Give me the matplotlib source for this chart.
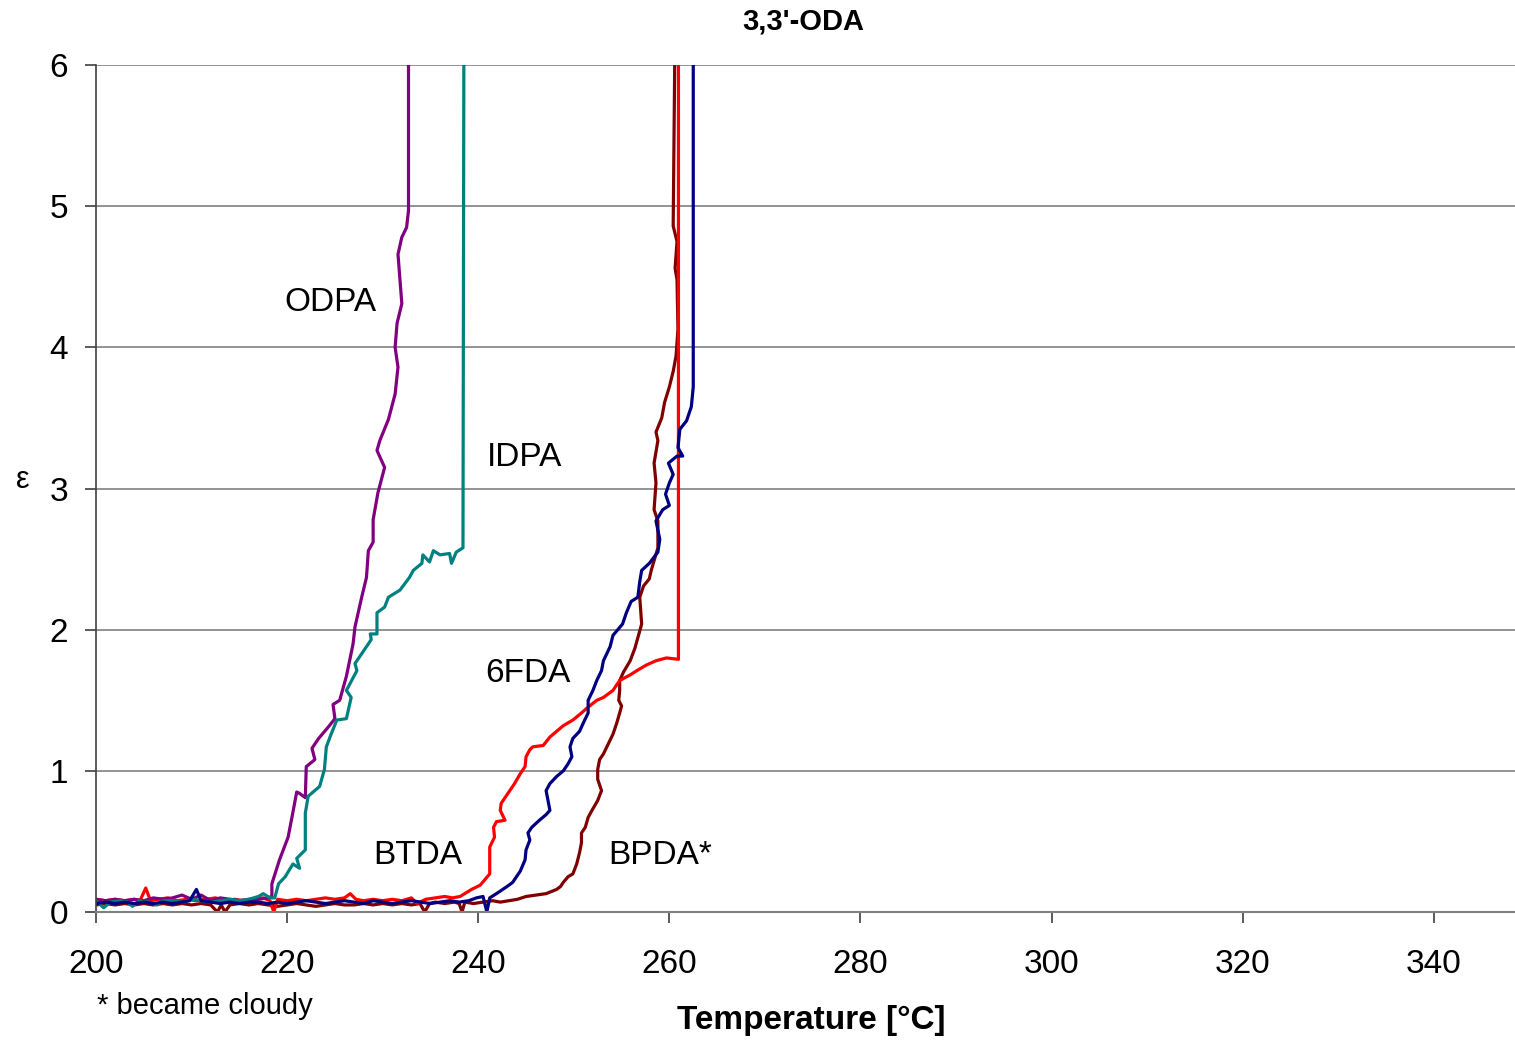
import matplotlib.pyplot as plt

plt.rcParams['font.family'] = ['Liberation Sans', 'DejaVu Sans']

# ODPA
odpa_t = [200, 201, 202, 203, 204, 205, 206, 207, 208, 209, 210, 211, 212, 213, 214, 215, 216, 217, 218,
          218.4, 218.4, 219.2, 220.1, 220.5, 221.0, 221.3, 221.9, 222.0, 222.9, 222.6, 223.3, 224.3, 225.0,
          224.8, 225.5, 226.2, 226.9, 227.1, 227.8, 228.3, 228.5, 229.0, 229.0, 229.5, 230.2, 229.4, 229.7,
          230.6, 231.3, 231.6, 231.3, 231.5, 232.0, 231.6, 232.0, 232.5, 232.7, 232.7]
odpa_e = [0.09, 0.08, 0.09, 0.08, 0.09, 0.08, 0.10, 0.09, 0.10, 0.12, 0.09, 0.12, 0.08, 0.10, 0.09, 0.08, 0.09, 0.09, 0.10,
          0.11, 0.20, 0.37, 0.53, 0.67, 0.85, 0.84, 0.81, 1.03, 1.08, 1.16, 1.23, 1.31, 1.37,
          1.47, 1.50, 1.67, 1.90, 2.02, 2.23, 2.37, 2.56, 2.62, 2.78, 2.97, 3.15, 3.27, 3.34,
          3.49, 3.67, 3.86, 4.00, 4.17, 4.31, 4.66, 4.78, 4.85, 4.97, 6.3]

# IDPA
idpa_t = [200, 200.8, 201.5, 202.5, 203.3, 203.8, 204.5, 205.5, 206.4, 207, 208, 209, 210, 211, 212, 213, 214,
          215, 216, 217, 217.5, 218.2, 218.7, 219.1, 219.8, 220.6, 221.3, 221.0, 221.9, 221.9, 222.2, 223.4,
          223.9, 224.1, 224.6, 225.2, 226.2, 226.7, 226.2, 227.3, 227.1, 228.8, 228.7, 229.4, 229.4, 230.2,
          230.6, 231.8, 232.8, 233.2, 234.1, 234.2, 234.9, 235.3, 236.0, 237.0, 237.2, 237.7, 238.4, 238.5]
idpa_e = [0.08, 0.03, 0.07, 0.08, 0.07, 0.04, 0.08, 0.07, 0.05, 0.08, 0.08, 0.07, 0.09, 0.08, 0.07, 0.08, 0.09,
          0.08, 0.09, 0.11, 0.13, 0.10, 0.10, 0.20, 0.25, 0.34, 0.31, 0.38, 0.44, 0.70, 0.82, 0.89,
          1.01, 1.17, 1.26, 1.36, 1.37, 1.52, 1.57, 1.71, 1.76, 1.93, 1.97, 1.97, 2.12, 2.16,
          2.23, 2.28, 2.37, 2.42, 2.47, 2.53, 2.48, 2.56, 2.53, 2.54, 2.47, 2.55, 2.58, 6.3]

# BTDA
btda_t = [200, 201, 202, 203, 204, 204.6, 205.2, 205.7, 206.5, 207.5, 208.5, 209.5, 210.5, 211.5, 212.5, 213.5,
          214.5, 215.5, 216.5, 217.5, 218.2, 218.6, 219.0, 220, 221, 222, 223, 224, 225, 226, 226.6, 227.2,
          228, 229, 230, 231, 232, 233, 233.6, 234.5, 235.5, 236.5, 237.3, 238.1,
          239.3, 240.2, 241.2, 241.2, 241.7, 241.6, 241.9, 242.8, 242.3, 242.4, 243.1, 243.8, 244.4, 244.9,
          245.0, 245.4, 245.7, 246.8, 247.5, 248.2, 248.9, 249.9, 250.8, 251.3, 252.4, 253.1, 254.1, 254.8,
          255.9, 256.6, 257.6, 258.6, 259.7, 260.95, 260.95]
btda_e = [0.09, 0.08, 0.09, 0.08, 0.09, 0.08, 0.17, 0.08, 0.09, 0.10, 0.08, 0.09, 0.08, 0.09, 0.10, 0.08,
          0.09, 0.08, 0.09, 0.10, 0.08, 0.0, 0.09, 0.08, 0.09, 0.08, 0.09, 0.10, 0.09, 0.10, 0.13, 0.09,
          0.08, 0.09, 0.08, 0.09, 0.08, 0.10, 0.06, 0.09, 0.10, 0.11, 0.10, 0.11,
          0.16, 0.19, 0.27, 0.46, 0.53, 0.60, 0.64, 0.65, 0.72, 0.77, 0.84, 0.91, 0.98, 1.03,
          1.10, 1.15, 1.17, 1.18, 1.24, 1.28, 1.32, 1.36, 1.41, 1.44, 1.50, 1.52, 1.57, 1.64,
          1.68, 1.71, 1.75, 1.78, 1.80, 1.79, 6.3]

# 6FDA
fda_t = [200, 201, 202, 203, 204, 205, 206, 207, 208, 209, 209.8, 210.5, 211.0, 212, 213, 214, 215, 216, 217,
         218, 219, 220, 221, 222, 223, 224, 225, 226, 227, 228, 229, 230, 231, 232, 233, 234, 235, 236, 237,
         238, 239, 239.8, 240.5, 240.9, 241.2, 241.9,
         243.0, 243.6, 244.4, 244.9, 245.0, 245.4, 245.2, 245.6, 246.4, 247.1, 247.5, 247.3, 247.1, 247.5,
         248.2, 248.9, 249.4, 249.8, 249.6, 249.9, 250.6, 251.0, 251.5, 251.5, 252.0, 252.4, 252.9, 253.1,
         253.8, 254.1, 255.1, 255.5, 256.0, 256.7, 256.9, 257.1, 257.9, 258.8, 259.0, 258.6, 259.3, 260.0,
         259.6, 260.0, 260.4, 259.9, 260.8, 261.4, 260.9, 261.1, 261.8, 262.3, 262.5, 262.5, 262.5]
fda_e = [0.06, 0.07, 0.06, 0.07, 0.06, 0.07, 0.06, 0.07, 0.06, 0.07, 0.08, 0.16, 0.08, 0.07, 0.06, 0.07, 0.06, 0.07, 0.07,
         0.06, 0.07, 0.06, 0.07, 0.08, 0.07, 0.06, 0.07, 0.08, 0.07, 0.06, 0.08, 0.07, 0.06, 0.07, 0.08, 0.07, 0.06, 0.07, 0.08,
         0.07, 0.08, 0.10, 0.11, 0.0, 0.10, 0.13,
         0.18, 0.21, 0.29, 0.37, 0.44, 0.51, 0.56, 0.60, 0.65, 0.69, 0.72, 0.79, 0.86, 0.91,
         0.96, 1.00, 1.05, 1.10, 1.17, 1.23, 1.28, 1.34, 1.41, 1.50, 1.57, 1.64, 1.71, 1.78,
         1.88, 1.96, 2.04, 2.12, 2.20, 2.23, 2.34, 2.42, 2.47, 2.55, 2.64, 2.77, 2.85, 2.88,
         2.96, 3.04, 3.10, 3.18, 3.23, 3.23, 3.29, 3.42, 3.48, 3.58, 3.72, 3.88, 6.3]

# BPDA*
bpda_t = [200, 201, 202, 203, 204, 205, 206, 207, 208, 209, 210, 211, 212, 212.7, 213.1, 213.5, 214, 215, 216,
          217, 218, 219, 220, 221, 222, 223, 224, 225, 226, 227, 228, 229, 230, 231, 232, 233, 233.9, 234.4,
          234.9, 235.5, 236.5, 237.5, 238.0, 238.3, 238.6, 239.5, 240.5, 241.5, 242.3, 243.2, 244.1,
          245.0, 247.1, 248.2, 248.6, 248.9, 249.4, 249.9, 250.3, 250.6, 250.8, 250.8, 251.2, 251.5, 251.9,
          252.5, 252.9, 252.5, 252.5, 252.7, 253.1, 253.6, 254.1, 254.5, 254.8, 255.0, 254.7, 254.8, 254.8,
          255.2, 255.9, 256.4, 257.1, 256.9, 257.3, 257.9, 258.1, 258.8, 258.8, 258.4, 258.6, 258.4, 258.8,
          258.6, 259.2, 259.5, 260.0, 260.4, 260.7, 260.9, 260.8, 260.6, 260.8, 260.4, 260.6]
bpda_e = [0.05, 0.06, 0.05, 0.06, 0.05, 0.06, 0.05, 0.06, 0.05, 0.06, 0.05, 0.06, 0.05, 0.0, 0.05, 0.0, 0.05, 0.06, 0.05,
          0.06, 0.05, 0.04, 0.05, 0.06, 0.05, 0.04, 0.05, 0.06, 0.05, 0.05, 0.06, 0.05, 0.06, 0.05, 0.06, 0.05, 0.06, 0.0,
          0.06, 0.07, 0.06, 0.07, 0.06, 0.0, 0.07, 0.06, 0.07, 0.08, 0.07, 0.08, 0.09,
          0.11, 0.13, 0.16, 0.18, 0.21, 0.25, 0.27, 0.34, 0.42, 0.49, 0.56, 0.60, 0.67, 0.72,
          0.79, 0.86, 0.94, 1.01, 1.08, 1.12, 1.19, 1.26, 1.34, 1.41, 1.46, 1.50, 1.57, 1.64,
          1.70, 1.78, 1.87, 2.04, 2.23, 2.31, 2.36, 2.42, 2.58, 2.77, 2.85, 3.04, 3.18, 3.34,
          3.40, 3.50, 3.61, 3.72, 3.83, 3.94, 4.13, 4.48, 4.56, 4.75, 4.86, 6.3]

fig = plt.figure(figsize=(15.15, 10.43), dpi=100)
ax = fig.add_axes([0.0634, 0.1256, 0.9366, 0.812])

ax.plot(bpda_t, bpda_e, color='#800000', lw=2.3)
ax.plot(btda_t, btda_e, color='#ff0000', lw=2.3)
ax.plot(odpa_t, odpa_e, color='#800080', lw=2.3)
ax.plot(idpa_t, idpa_e, color='#008080', lw=2.3)
ax.plot(fda_t, fda_e, color='#000080', lw=2.3)

ax.set_xlim(200, 348.5)
ax.set_ylim(0, 6)
ax.set_xticks(range(200, 341, 20))
ax.set_yticks(range(0, 7))
ax.grid(axis='y', color='#808080', lw=1.2)
ax.set_axisbelow(True)
for s in ['top', 'right']:
    ax.spines[s].set_visible(False)
ax.spines['left'].set_color('#404040')
ax.spines['bottom'].set_color('#808080')
ax.spines['left'].set_linewidth(1.2)
ax.spines['bottom'].set_linewidth(1.5)
ax.tick_params(axis='x', direction='out', length=8, width=1.2, color='#404040', labelsize=24, pad=19)
ax.tick_params(axis='y', direction='out', length=8, width=1.2, color='#404040', labelsize=24, pad=12)

ax.text(224.5, 4.32, 'ODPA', fontsize=24, ha='center', va='center')
ax.text(244.8, 3.22, 'IDPA', fontsize=24, ha='center', va='center')
ax.text(245.2, 1.69, '6FDA', fontsize=24, ha='center', va='center')
ax.text(233.7, 0.40, 'BTDA', fontsize=24, ha='center', va='center')
ax.text(259.0, 0.40, 'BPDA*', fontsize=24, ha='center', va='center')

fig.text(803 / 1515, 1 - 22 / 1043, "3,3'-ODA", fontsize=21, fontweight='bold', ha='center', va='center')
fig.text(811 / 1515, 1 - 1021 / 1043, 'Temperature [°C]', fontsize=24, fontweight='bold', ha='center', va='center')
fig.text(97 / 1515, 1 - 1006 / 1043, '* became cloudy', fontsize=21, ha='left', va='center')
fig.text(23 / 1515, 1 - 480 / 1043, 'ε', fontsize=22, ha='center', va='center')

fig.savefig('out.png', dpi=100)
